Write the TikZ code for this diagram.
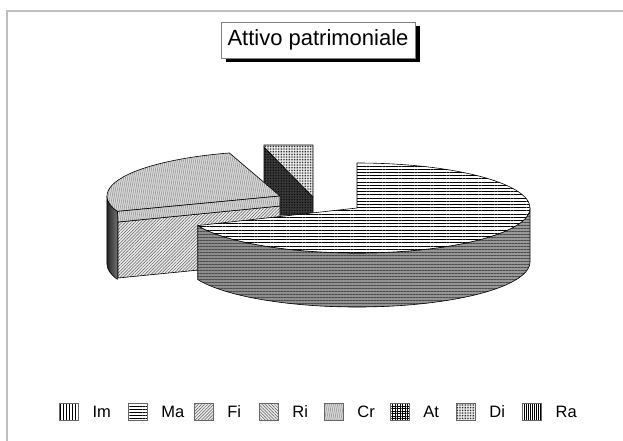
\documentclass[tikz,border=0pt]{standalone}
\usepackage{fontspec}
\setmainfont{Liberation Sans}
\usetikzlibrary{patterns.meta,shadows,positioning}

\tikzset{
  slice/.style={draw=black, line width=0.6pt, line join=round},
  patIm/.style={preaction={fill=white}, pattern={Lines[angle=90,distance=3pt,line width=0.7pt]}, pattern color=black},
  patMa/.style={preaction={fill=white}, pattern={Lines[angle=0,distance=3.2pt,line width=0.45pt]}, pattern color=black},
  patMaside/.style={pattern={Lines[angle=0,distance=3pt,line width=0.45pt]}, pattern color=black!70},
  patFi/.style={preaction={fill=gray!15}, pattern={Lines[angle=45,distance=2.2pt,line width=0.5pt]}, pattern color=black!65},
  patRi/.style={preaction={fill=gray!15}, pattern={Lines[angle=-45,distance=2.2pt,line width=0.5pt]}, pattern color=black!65},
  patCr/.style={preaction={fill=gray!30}, pattern={Lines[angle=80,distance=2pt,line width=0.5pt]}, pattern color=black!45},
  patAt/.style={preaction={fill=white}, pattern={Hatch[distance=2.5pt,line width=0.5pt]}, pattern color=black},
  patDi/.style={preaction={fill=white}, pattern={Dots[distance=1.6pt,radius=0.5pt]}, pattern color=black},
  patDidark/.style={preaction={fill=black!75}, pattern={Dots[distance=1.6pt,radius=0.5pt]}, pattern color=black},
  patRa/.style={preaction={fill=white}, pattern={Lines[angle=90,distance=2pt,line width=0.9pt]}, pattern color=black},
  legbox/.style={draw=black!60, line width=0.4pt, minimum width=19pt, minimum height=17pt, inner sep=0pt},
  legtext/.style={font=\fontsize{16.5}{19}\selectfont, inner sep=0pt},
}

\begin{document}
\begin{tikzpicture}[x=1pt, y=-1pt]
  \useasboundingbox (0,0) rectangle (623,441);
  % frame
  \draw[black!25, line width=1.5pt] (7,441) -- (7,11) -- (623,11);

  % title
  \node[draw=black!50, fill=white, line width=0.5pt, minimum width=194pt, minimum height=36pt,
        font=\fontsize{22}{25}\selectfont,
        drop shadow={shadow xshift=4.5pt, shadow yshift=-4.5pt, fill=black, opacity=1}]
        (title) at (318,40) {Attivo patrimoniale};

  % Di / At piece (back)
  \draw[slice, patDidark] (264,147) -- (313,197) -- (313,215) -- (264,215) -- cycle;
  \draw[slice, patDi] (264,145) -- (313,145) -- (313,197) -- (264,147) -- cycle;

  % left group: Cr, Ri, Fi
  \coordinate (cr) at (280,196);
  \shadedraw[slice, left color=black!85, right color=black!55]
    (107,196) arc[start angle=180, end angle=160, x radius=173, y radius=45]
    -- (117.4,279.4) arc[start angle=160, end angle=180, x radius=173, y radius=45] -- cycle;
  \draw[slice, patFi] (118,222) -- (280,206) -- (280,262) -- (118,278) -- cycle;
  \draw[slice, patCr] (cr) -- (117.4,211.4)
    arc[start angle=160, end angle=253, x radius=173, y radius=45] -- cycle;
  \draw[slice, patCr] (cr) -- (117.4,211.4) -- (118,222) -- (280,206) -- cycle;

  % Ma
  \coordinate (ma) at (357,208);
  \shade[left color=black!45, middle color=white, right color=black!40] (530,208)
    arc[start angle=0, end angle=157, x radius=173, y radius=45]
    -- ++(0,54) arc[start angle=157, end angle=0, x radius=173, y radius=45] -- cycle;
  \draw[slice, patMaside] (530,208)
    arc[start angle=0, end angle=157, x radius=173, y radius=45]
    -- ++(0,54) arc[start angle=157, end angle=0, x radius=173, y radius=45] -- cycle;
  \draw[slice, patMa] (ma) -- (357,163)
    arc[start angle=-90, end angle=157, x radius=173, y radius=45] -- cycle;

  % legend
  \foreach \xb/\lab/\pat in {59/Im/patIm, 128/Ma/patMa, 194/Fi/patFi, 259/Ri/patRi,
                              324/Cr/patCr, 390/At/patAt, 456/Di/patDi, 522/Ra/patRa}{
    \node[legbox, \pat] (box\lab) at (\xb+9.5,412) {};
    \node[legtext, right=14pt of box\lab] (txt\lab) {\lab};
  }
\end{tikzpicture}
\end{document}
